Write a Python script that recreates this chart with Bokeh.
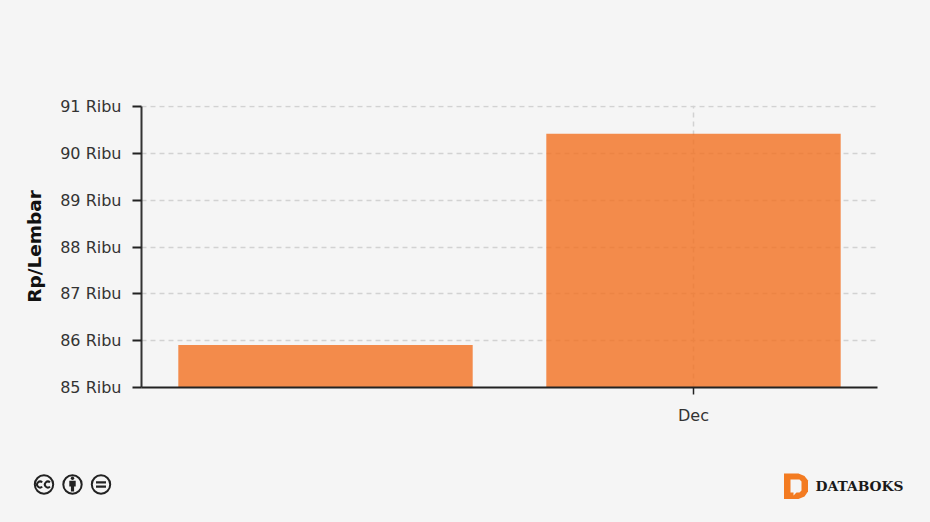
from bokeh.embed import file_html
from bokeh.resources import INLINE
from bokeh.plotting import figure
from bokeh.layouts import column
from bokeh.core.properties import value
from bokeh.models import ColumnDataSource, FixedTicker, Range1d

categories = ["", "Dec"]
values = [85.91, 90.43]
y_ticks = [85, 86, 87, 88, 89, 90, 91]
y_tick_labels = ["85 Ribu", "86 Ribu", "87 Ribu", "88 Ribu", "89 Ribu", "90 Ribu", "91 Ribu"]
y_title = "Rp/Lembar"
brand = "DATABOKS"

BG = "#f5f5f5"
FONT = "DejaVu Sans"

centers = [i + 0.5 for i in range(len(categories))]
src = ColumnDataSource(dict(x=centers, top=values, cat=categories))

p = figure(width=930, height=450, output_backend="svg", toolbar_location=None,
           x_range=Range1d(0, len(categories)), y_range=Range1d(y_ticks[0], y_ticks[-1] + 0.032),
           background_fill_color=BG, border_fill_color=BG,
           min_border_left=141, min_border_right=53, min_border_top=105, min_border_bottom=63)
p.outline_line_color = None
p.frame_align = False

p.vbar(x="x", top="top", bottom=y_ticks[0], width=0.8, source=src,
       fill_color="#F37021", fill_alpha=0.8, line_color=None)

for g in (p.xgrid, p.ygrid):
    g.grid_line_color = "#d2d2d2"
    g.grid_line_width = 1.5
    g.grid_line_dash = "5 4"
p.xgrid.ticker = FixedTicker(ticks=[centers[1]])
p.ygrid.ticker = FixedTicker(ticks=y_ticks[1:])

ax = p.yaxis[0]
ax.bounds = (y_ticks[0], y_ticks[-1])
ax.ticker = FixedTicker(ticks=y_ticks)
ax.major_label_overrides = {t: s for t, s in zip(y_ticks, y_tick_labels)}
ax.major_label_text_font = FONT
ax.major_label_text_font_size = "16px"
ax.major_label_text_color = "#333333"
ax.major_label_standoff = 11
ax.major_tick_out = 9
ax.major_tick_in = 0
ax.minor_tick_line_color = None
ax.major_tick_line_color = "#222222"
ax.major_tick_line_width = 2
ax.axis_line_color = "#333333"
ax.axis_line_width = 2
ax.axis_label = y_title
ax.axis_label_text_font = FONT
ax.axis_label_text_font_style = "bold"
ax.axis_label_text_font_size = "18.5px"
ax.axis_label_text_color = "#111111"
ax.axis_label_standoff = 12

bx = p.xaxis[0]
bx.ticker = FixedTicker(ticks=[centers[1]])
bx.major_label_overrides = {centers[1]: categories[1]}
bx.major_label_text_font = FONT
bx.major_label_text_font_size = "16px"
bx.major_label_text_color = "#333333"
bx.major_label_standoff = 11
bx.major_tick_out = 7
bx.major_tick_in = 0
bx.minor_tick_line_color = None
bx.major_tick_line_color = "#222222"
bx.major_tick_line_width = 1.5
bx.axis_line_color = "#222222"
bx.axis_line_width = 2

# Footer strip: its scales run one unit per pixel, page x and (522 - page y)
FOOT_TOP = 450
f = figure(width=930, height=522 - FOOT_TOP, output_backend="svg", toolbar_location=None,
           x_range=Range1d(0, 930), y_range=Range1d(0, 522 - FOOT_TOP),
           x_axis_location=None, y_axis_location=None,
           background_fill_color=BG, border_fill_color=BG,
           min_border_left=0, min_border_right=0, min_border_top=0, min_border_bottom=0)
f.outline_line_color = None
f.grid.visible = False
f.frame_align = False


def Y(py):
    return 522 - py


ICON = "#222222"
f.circle(x=[43.5, 72, 100.5], y=[Y(484)] * 3, radius=9.2, fill_color=BG, line_color=ICON, line_width=2)
# cc
f.arc(x=[39.6, 47.4], y=[Y(484)] * 2, radius=3, start_angle=0.8, end_angle=-0.8 + 6.283,
      line_color=ICON, line_width=2)
# person
f.circle(x=[72], y=[Y(477.8)], radius=1.7, fill_color=ICON, line_color=None)
f.patch(x=[68.8, 75.2, 75.2, 73.6, 73.6, 70.4, 70.4, 68.8],
        y=[Y(v) for v in (480.3, 480.3, 486, 486, 491, 491, 486, 486)], fill_color=ICON, line_color=None)
# equals
f.quad(left=[95.5, 95.5], right=[105.5, 105.5], top=[Y(480.8), Y(485)], bottom=[Y(483), Y(487.2)],
       fill_color=ICON, line_color=None)

# Databoks logo
f.patch(x=[783.5, 798, 804, 807.5, 807.5, 804, 798, 783.5],
        y=[Y(v) for v in (473, 473, 475.5, 480, 491, 496, 498.5, 498.5)], fill_color="#F37B21", line_color=None)
f.patch(x=[790, 799, 801, 801, 799, 796, 793, 793, 790],
        y=[Y(v) for v in (479, 479, 481, 490, 492, 492, 495, 492, 492)], fill_color=BG, line_color=None)
f.text(x=[815], y=[Y(485)], text=[brand], text_font=value("DejaVu Serif"), text_font_style="bold",
       text_font_size="13.8px", text_color="#1a1a1a", text_baseline="middle", text_align="left")

template = """{% block preamble %}<style>html,body{background:#f5f5f5;overflow:hidden;margin:0;padding:0}</style>{% endblock %}
"""
open("out.html", "w").write(file_html(column(p, f, spacing=0), INLINE, template=template))
